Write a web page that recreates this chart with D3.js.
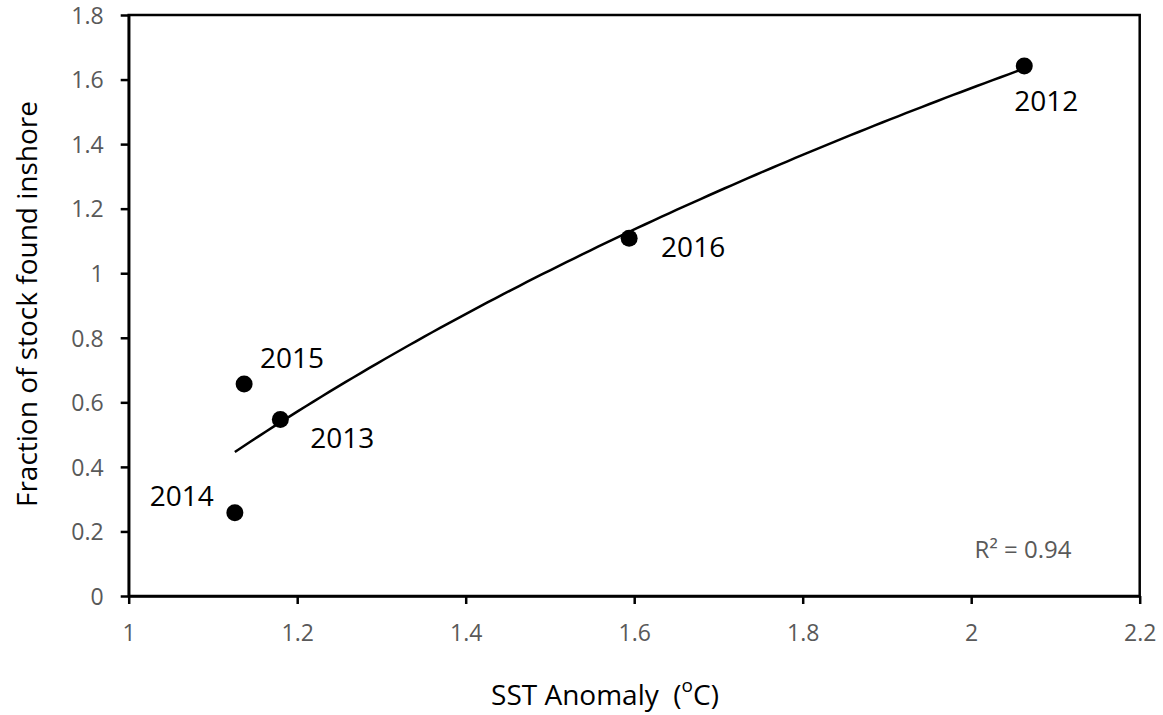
<!DOCTYPE html>
<html>
<head>
<meta charset="utf-8">
<script src="https://cdn.jsdelivr.net/npm/d3@7"></script>
<style>
  html, body { margin: 0; padding: 0; background: #fff; }
  svg { display: block; font-family: "Open Sans", "Noto Sans", sans-serif; }
</style>
</head>
<body>
<svg id="chart" width="1163" height="715"></svg>
<script>
// ---- data ----
const years = ["2012", "2013", "2014", "2015", "2016"];
const sstAnomaly = [2.063, 1.180, 1.126, 1.137, 1.594];
const fractionInshore = [1.642, 0.547, 0.258, 0.657, 1.108];
const xTickValues = [1, 1.2, 1.4, 1.6, 1.8, 2, 2.2];
const yTickValues = [0, 0.2, 0.4, 0.6, 0.8, 1, 1.2, 1.4, 1.6, 1.8];
const rSquaredLabel = "R² = 0.94";
// label offsets in pixels (styling)
const labelOffsets = {"2012": [22, 35], "2013": [62, 18], "2014": [-53, -17], "2015": [48, -26], "2016": [64, 9]};

(function () {
const points = years.map((yr, i) => ({year: yr, x: sstAnomaly[i], y: fractionInshore[i]}));

const svg = d3.select("#chart");
const pLeft = 128.7, pRight = 1139.7, pTop = 15, pBottom = 596;

const x = d3.scaleLinear().domain([1, 2.2]).range([pLeft, pRight]);
const y = d3.scaleLinear().domain([0, 1.8]).range([pBottom, pTop]);

// logarithmic least-squares trendline (as in spreadsheet trendline)
const lx = points.map(p => Math.log(p.x));
const my = d3.mean(points, p => p.y), mlx = d3.mean(lx);
let sxx = 0, sxy = 0;
points.forEach((p, i) => { sxx += (lx[i] - mlx) ** 2; sxy += (lx[i] - mlx) * (p.y - my); });
const slope = sxy / sxx, intercept = my - slope * mlx;
const [xmin, xmax] = d3.extent(points, p => p.x);
const trend = d3.range(0, 101).map(k => {
  const xv = xmin + (xmax - xmin) * k / 100;
  return [xv, slope * Math.log(xv) + intercept];
});

// frame
svg.append("rect")
  .attr("x", pLeft).attr("y", pTop)
  .attr("width", pRight - pLeft).attr("height", pBottom - pTop)
  .attr("fill", "none").attr("stroke", "#000").attr("stroke-width", 2.5);

// axes
const xAxis = d3.axisBottom(x).tickValues(xTickValues).tickSize(8).tickSizeOuter(0)
  .tickFormat(d => d3.format("~g")(d));
const yAxis = d3.axisLeft(y).tickValues(yTickValues).tickSize(8).tickSizeOuter(0)
  .tickFormat(d => d3.format("~g")(d));

const gx = svg.append("g").attr("transform", `translate(0,${pBottom})`).call(xAxis);
const gy = svg.append("g").attr("transform", `translate(${pLeft},0)`).call(yAxis);
[gx, gy].forEach(g => {
  g.select(".domain").attr("stroke", "#000").attr("stroke-width", 2.5);
  g.selectAll(".tick line").attr("stroke", "#000").attr("stroke-width", 2.5);
  g.selectAll(".tick text").attr("fill", "#595959").attr("font-size", 23)
    .attr("font-family", "'Open Sans', sans-serif");
});
gx.selectAll(".tick text").attr("dy", "0.36em").attr("y", 37);
gy.selectAll(".tick text").attr("x", -25).attr("dy", "0.36em");

// trendline
svg.append("path")
  .datum(trend)
  .attr("d", d3.line().x(d => x(d[0])).y(d => y(d[1])))
  .attr("fill", "none").attr("stroke", "#000").attr("stroke-width", 2.5);

// points
svg.selectAll("circle.pt").data(points).enter().append("circle")
  .attr("class", "pt")
  .attr("cx", d => x(d.x)).attr("cy", d => y(d.y)).attr("r", 8.5)
  .attr("fill", "#000");

// data labels
svg.selectAll("text.lbl").data(points).enter().append("text")
  .attr("class", "lbl")
  .attr("x", d => x(d.x) + labelOffsets[d.year][0])
  .attr("y", d => y(d.y) + labelOffsets[d.year][1])
  .attr("text-anchor", "middle").attr("dy", "0.36em")
  .attr("font-size", 28).attr("fill", "#000")
  .text(d => d.year);

// R squared
svg.append("text")
  .attr("x", 1023).attr("y", 549).attr("dy", "0.36em")
  .attr("text-anchor", "middle").attr("font-size", 24).attr("fill", "#595959")
  .text(rSquaredLabel);

// axis titles
const xt = svg.append("text")
  .attr("x", 605).attr("y", 705)
  .attr("text-anchor", "middle").attr("font-size", 28).attr("fill", "#000")
  .style("white-space", "pre");
xt.append("tspan").text("SST Anomaly  (");
xt.append("tspan").attr("font-size", 19).attr("baseline-shift", "super").text("o");
xt.append("tspan").text("C)");

svg.append("text")
  .attr("transform", "translate(27,304) rotate(-90)")
  .attr("dy", "0.36em")
  .attr("text-anchor", "middle").attr("font-size", 28).attr("fill", "#000")
  .text("Fraction of stock found inshore");
})();
</script>
</body>
</html>
